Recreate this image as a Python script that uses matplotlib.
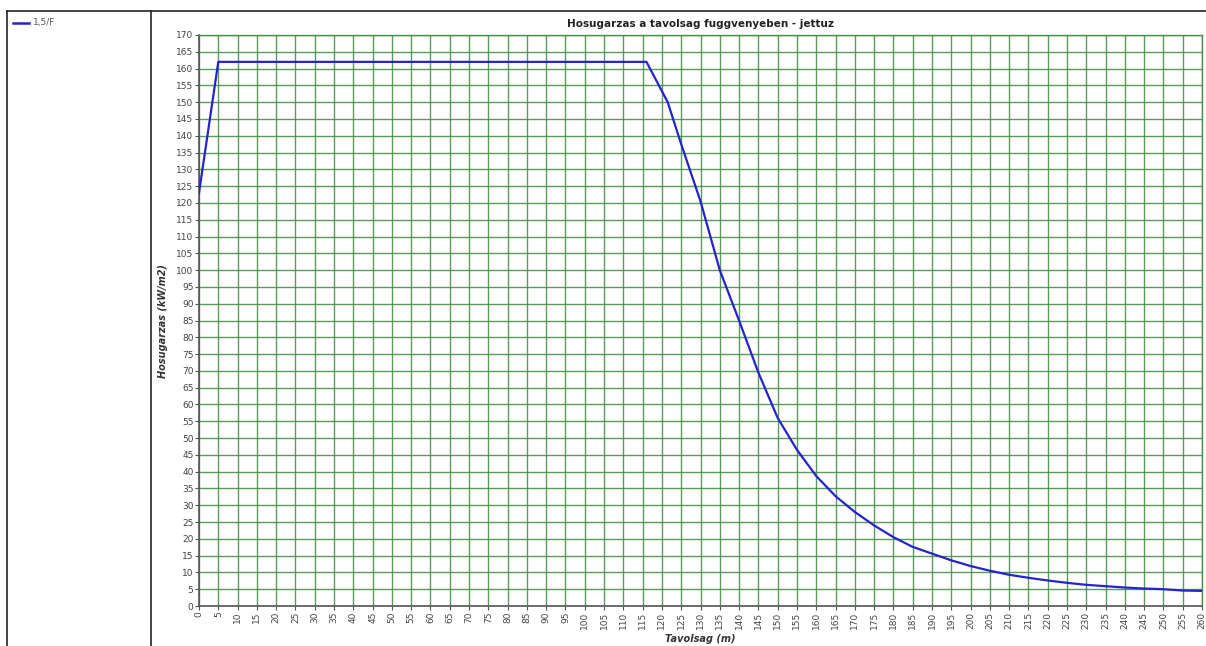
import matplotlib
matplotlib.use("Agg")
import matplotlib.pyplot as plt
from matplotlib.lines import Line2D

# Data
distance = [0, 5, 116, 121.5, 125, 130, 135, 140, 145, 150, 155, 160, 165, 170,
            175, 180, 185, 190, 195, 200, 205, 210, 215, 220, 225, 230, 235,
            240, 245, 250, 255, 260]
radiation = [123, 162, 162, 150, 137.5, 120.5, 100, 85, 69.5, 56, 46.5, 38.7,
             32.7, 28, 24, 20.5, 17.6, 15.6, 13.6, 11.9, 10.5, 9.3, 8.4, 7.6,
             6.9, 6.3, 5.9, 5.5, 5.2, 5.0, 4.6, 4.5]
series_name = "1,5/F"
title = "Hosugarzas a tavolsag fuggvenyeben - jettuz"
xlabel = "Tavolsag (m)"
ylabel = "Hosugarzas (kW/m2)"
x_ticks = list(range(0, 261, 5))
y_ticks = list(range(0, 171, 5))

W, H = 1206, 646
fig = plt.figure(figsize=(W / 100, H / 100), dpi=100)
fig.patch.set_facecolor("white")

# Frame lines (legend panel / chart panel)
fig.add_artist(Line2D([7 / W, 1.0], [1 - 10.5 / H, 1 - 10.5 / H], color="#222222", lw=1.2,
                      transform=fig.transFigure))
fig.add_artist(Line2D([7 / W, 7 / W], [0, 1 - 10.5 / H], color="#222222", lw=1.2,
                      transform=fig.transFigure))
fig.add_artist(Line2D([150.5 / W, 150.5 / W], [0, 1 - 10.5 / H], color="#222222", lw=1.2,
                      transform=fig.transFigure))

# Legend entry
fig.add_artist(Line2D([13 / W, 29 / W], [1 - 23 / H, 1 - 23 / H], color="#2424cc", lw=1.8,
                      transform=fig.transFigure))
fig.text(33 / W, 1 - 23 / H, series_name, fontsize=6.5, color="#555555", va="center", ha="left")

left, right, top, bottom = 199, 1202, 35, 606
ax = fig.add_axes([left / W, 1 - bottom / H, (right - left) / W, (bottom - top) / H])

ax.plot(distance, radiation, color="#2424cc", lw=1.6, zorder=3)
ax.set_xlim(0, 260)
ax.set_ylim(0, 170)
ax.set_xticks(x_ticks)
ax.set_yticks(y_ticks)
ax.set_xticklabels([str(v) for v in x_ticks], rotation=90, fontsize=6.5, color="#444444")
ax.set_yticklabels([str(v) for v in y_ticks], fontsize=6.5, color="#444444")
ax.tick_params(axis="both", length=3, width=0.8, color="#555555", pad=1)
ax.grid(True, color="#4a8f4a", lw=1.0, alpha=0.9, zorder=1)
ax.set_axisbelow(True)
for s in ["top", "right"]:
    ax.spines[s].set_color("#4a8f4a")
    ax.spines[s].set_linewidth(1.0)
for s in ["left", "bottom"]:
    ax.spines[s].set_color("#555555")
    ax.spines[s].set_linewidth(1.2)

ax.set_title(title, fontsize=7.5, fontweight="bold", color="#222222", pad=6)
ax.set_xlabel(xlabel, fontsize=7, fontstyle="italic", fontweight="bold", color="#333333", labelpad=4)
ax.set_ylabel(ylabel, fontsize=7, fontstyle="italic", fontweight="bold", color="#333333", labelpad=6)

fig.savefig("out.png", dpi=100)
